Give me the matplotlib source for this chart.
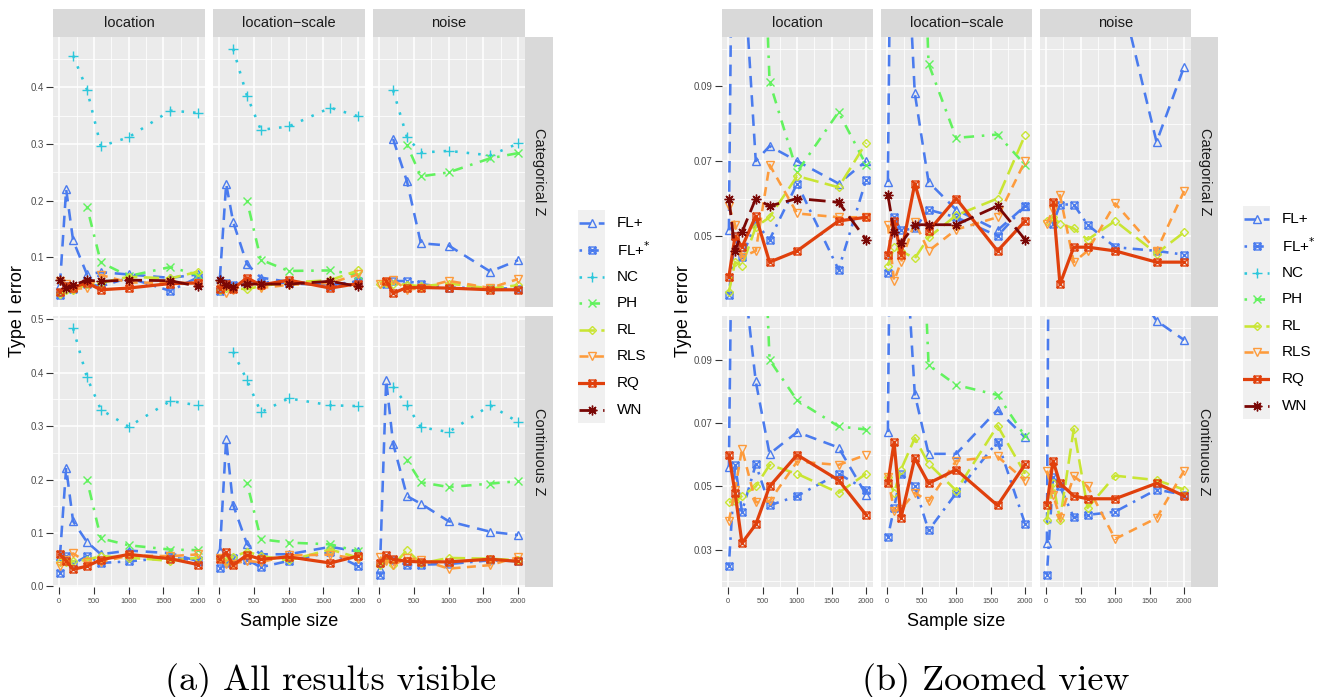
import numpy as np
import matplotlib.pyplot as plt
from matplotlib.path import Path
from matplotlib.ticker import FixedLocator, FormatStrFormatter

plt.rcParams['font.family'] = ['Liberation Sans', 'DejaVu Sans']

nan = np.nan

# x values shared by every facet
sample_size = [10, 100, 200, 400, 600, 1000, 1600, 2000]

methods = ['FL+', 'FL+*', 'NC', 'PH', 'RL', 'RLS', 'RQ', 'WN']
method_labels = ['FL+', 'FL+$^{*}$', 'NC', 'PH', 'RL', 'RLS', 'RQ', 'WN']
scenarios = ['location', 'location\u2212scale', 'noise']
covariates = ['Categorical Z', 'Continuous Z']

# type I error, one row per method (same order as `methods`)
cat_location = [
    [0.0515, 0.220, 0.130, 0.070, 0.074, 0.070, 0.064, 0.070],
    [0.0343, 0.050, 0.0444, 0.0535, 0.049, 0.064, 0.041, 0.065],
    [nan, nan, 0.456, 0.396, 0.296, 0.312, 0.359, 0.355],
    [nan, nan, nan, 0.189, 0.0912, 0.0671, 0.0831, 0.069],
    [0.035, 0.043, 0.042, 0.0524, 0.055, 0.066, 0.063, 0.0749],
    [0.058, 0.053, 0.0444, 0.046, 0.069, 0.056, 0.055, 0.055],
    [0.039, 0.050, 0.047, 0.0553, 0.043, 0.046, 0.054, 0.055],
    [0.060, 0.046, 0.051, 0.060, 0.058, 0.060, 0.059, 0.049],
]
cat_locscale = [
    [0.0644, 0.230, 0.163, 0.0882, 0.0644, 0.057, 0.0515, 0.058],
    [0.040, 0.055, 0.0515, 0.052, 0.057, 0.055, 0.050, 0.058],
    [nan, nan, 0.468, 0.385, 0.325, 0.331, 0.364, 0.349],
    [nan, nan, nan, 0.200, 0.096, 0.0762, 0.0771, 0.069],
    [0.042, 0.047, 0.046, 0.044, 0.0496, 0.0555, 0.060, 0.077],
    [0.053, 0.038, 0.043, 0.0537, 0.046, 0.0517, 0.055, 0.070],
    [0.045, 0.054, 0.045, 0.064, 0.0513, 0.060, 0.046, 0.054],
    [0.061, 0.051, 0.048, 0.053, 0.053, 0.053, 0.058, 0.049],
]
cat_noise = [
    [nan, nan, 0.309, 0.234, 0.125, 0.121, 0.0751, 0.0952],
    [nan, 0.0533, 0.0584, 0.0584, 0.053, 0.047, 0.046, 0.045],
    [nan, nan, 0.395, 0.312, 0.285, 0.288, 0.280, 0.301],
    [nan, nan, nan, 0.298, 0.243, 0.250, 0.275, 0.284],
    [0.054, 0.055, 0.0533, 0.052, 0.049, 0.054, 0.0453, 0.051],
    [0.0533, 0.057, 0.0609, 0.043, 0.046, 0.0587, 0.046, 0.062],
    [nan, 0.0591, 0.0371, 0.047, 0.047, 0.046, 0.043, 0.043],
    [nan, nan, nan, nan, nan, nan, nan, nan],
]
cont_location = [
    [0.0563, 0.222, 0.122, 0.0832, 0.0603, 0.0672, 0.0623, 0.0474],
    [0.025, 0.0568, 0.042, 0.057, 0.044, 0.047, 0.054, 0.049],
    [nan, nan, 0.483, 0.391, 0.331, 0.299, 0.347, 0.339],
    [nan, nan, nan, 0.199, 0.090, 0.0772, 0.069, 0.068],
    [0.045, 0.0453, 0.047, 0.050, 0.0568, 0.054, 0.048, 0.054],
    [0.039, 0.049, 0.0619, 0.045, 0.0453, 0.0579, 0.0568, 0.060],
    [0.060, 0.048, 0.0321, 0.038, 0.050, 0.060, 0.052, 0.041],
    [nan, nan, nan, nan, nan, nan, nan, nan],
]
cont_locscale = [
    [0.0672, 0.275, 0.153, 0.0792, 0.0603, 0.0603, 0.0742, 0.0655],
    [0.034, 0.0432, 0.054, 0.050, 0.0361, 0.0479, 0.0642, 0.0381],
    [nan, nan, 0.439, 0.386, 0.326, 0.352, 0.339, 0.3375],
    [nan, nan, nan, 0.194, 0.0884, 0.0821, 0.0789, 0.0658],
    [0.053, 0.048, 0.0553, 0.0653, 0.0572, 0.0487, 0.0692, 0.054],
    [0.053, 0.0423, 0.0428, 0.048, 0.0453, 0.0581, 0.0595, 0.0518],
    [0.051, 0.064, 0.040, 0.059, 0.051, 0.0553, 0.044, 0.057],
    [nan, nan, nan, nan, nan, nan, nan, nan],
]
cont_noise = [
    [0.0321, 0.386, 0.2675, 0.169, 0.155, 0.122, 0.1024, 0.0963],
    [0.0221, 0.053, 0.050, 0.0402, 0.041, 0.042, 0.049, 0.0474],
    [nan, nan, 0.374, 0.339, 0.298, 0.289, 0.339, 0.3075],
    [nan, nan, nan, 0.236, 0.195, 0.186, 0.1925, 0.197],
    [0.0393, 0.051, 0.0395, 0.0681, 0.0432, 0.0534, 0.052, 0.049],
    [0.055, 0.0474, 0.040, 0.0532, 0.050, 0.0334, 0.040, 0.055],
    [0.0442, 0.0581, 0.051, 0.047, 0.0461, 0.0461, 0.051, 0.047],
    [nan, nan, nan, nan, nan, nan, nan, nan],
]

facets = [[cat_location, cat_locscale, cat_noise],
          [cont_location, cont_locscale, cont_noise]]

# styling per method
colors = ['#4a7bee', '#4a7bee', '#2cc7db', '#62f25e', '#c9e533', '#fd9b3c', '#e0400c', '#7a0705']
styles = [(0, (4.5, 3)), (0, (1, 2.5, 4, 2.5)), (0, (1, 3.5)), (0, (1, 3, 4, 3)),
          (0, (6, 2.5)), (0, (3.5, 2.5)), '-', (0, (6, 2.5))]
widths = [1.85, 1.85, 1.85, 1.85, 1.85, 1.85, 2.3, 2.0]
sq_x = Path([(-1, -1), (1, -1), (1, 1), (-1, 1), (-1, -1), (-1, -1), (1, 1), (-1, 1), (1, -1)],
            [Path.MOVETO, Path.LINETO, Path.LINETO, Path.LINETO, Path.CLOSEPOLY,
             Path.MOVETO, Path.LINETO, Path.MOVETO, Path.LINETO])
markers = ['^', sq_x, '+', 'x', 'D', 'v', sq_x, (8, 2, 0)]
msizes = [5.5, 5, 7, 5.5, 4.5, 5.5, 5, 7]

W, H = 1321, 697
fig = plt.figure(figsize=(W / 100, H / 100), dpi=100)


def add_px(x0, y0, x1, y1):
    return fig.add_axes([x0 / W, 1 - y1 / H, (x1 - x0) / W, (y1 - y0) / H])


def expand(lo, hi):
    r = hi - lo
    return lo - 0.05 * r, hi + 0.05 * r


rows = [(36.5, 307), (316, 587)]
strip_top = 9
blocks = [
    dict(cols=[(53, 205), (213, 365), (373, 525)], strip=(525, 553), zoom=False,
         ylab_x=18, leg=(578, 210, 605, 423), leg_tx=617,
         caption='(a) All results visible', cap_x=331),
    dict(cols=[(722, 873), (881, 1032), (1040, 1191)], strip=(1191, 1218), zoom=True,
         ylab_x=683, leg=(1243, 206, 1270, 419), leg_tx=1282,
         caption='(b) Zoomed view', cap_x=996),
]

xlim = expand(min(sample_size), max(sample_size))

for blk in blocks:
    for r in range(2):
        y0, y1 = rows[r]
        vals = np.array(facets[r], dtype=float)
        lo, hi = np.nanmin(vals), np.nanmax(vals)
        if blk['zoom']:
            ylim = expand(lo, 0.1)
            major = [0.03, 0.05, 0.07, 0.09]
            minor = [0.02, 0.04, 0.06, 0.08, 0.10]
            fmt = '%.2f'
        else:
            ylim = expand(lo, hi)
            major = [0.0, 0.1, 0.2, 0.3, 0.4, 0.5]
            minor = [0.05, 0.15, 0.25, 0.35, 0.45]
            fmt = '%.1f'
        for c in range(3):
            x0, x1 = blk['cols'][c]
            ax = add_px(x0, y0, x1, y1)
            ax.set_facecolor('#ebebeb')
            data = np.array(facets[r][c], dtype=float)
            for i in range(len(methods)):
                ax.plot(sample_size, data[i], color=colors[i], linestyle=styles[i],
                        linewidth=widths[i], marker=markers[i], markersize=msizes[i],
                        markerfacecolor='none', markeredgecolor=colors[i],
                        markeredgewidth=1.0)
            ax.set_xlim(xlim)
            ax.set_ylim(ylim)
            ax.xaxis.set_major_locator(FixedLocator([0, 500, 1000, 1500, 2000]))
            ax.xaxis.set_minor_locator(FixedLocator([250, 750, 1250, 1750]))
            ax.yaxis.set_major_locator(FixedLocator(major))
            ax.yaxis.set_minor_locator(FixedLocator(minor))
            ax.yaxis.set_major_formatter(FormatStrFormatter(fmt))
            ax.grid(which='major', color='white', linewidth=1.1)
            ax.grid(which='minor', color='white', linewidth=0.55)
            ax.set_axisbelow(True)
            for s in ax.spines.values():
                s.set_visible(False)
            ax.tick_params(which='minor', length=0)
            ax.tick_params(axis='y', which='major', length=5, width=0.8, color='#333333',
                           labelsize=7, labelcolor='#4d4d4d', pad=1.7,
                           left=(c == 0), labelleft=(c == 0))
            ax.tick_params(axis='x', which='major', length=5, width=0.8, color='#333333',
                           labelsize=5.3, labelcolor='#4d4d4d', pad=3,
                           bottom=(r == 1), labelbottom=(r == 1))

            # facet strips on top
            if r == 0:
                st = add_px(x0, strip_top, x1, y0)
                st.set_facecolor('#d9d9d9')
                st.set_xticks([])
                st.set_yticks([])
                for s in st.spines.values():
                    s.set_visible(False)
                st.text(0.5, 0.5, scenarios[c], ha='center', va='center',
                        fontsize=10.5, color='#1a1a1a', transform=st.transAxes)

        # facet strip on the right
        sx0, sx1 = blk['strip']
        sr = add_px(sx0, y0, sx1, y1)
        sr.set_facecolor('#d9d9d9')
        sr.set_xticks([])
        sr.set_yticks([])
        for s in sr.spines.values():
            s.set_visible(False)
        sr.text(0.5, 0.5, covariates[r], ha='center', va='center', rotation=270,
                fontsize=10.5, color='#1a1a1a', transform=sr.transAxes)

    # axis titles
    xc = (blk['cols'][0][0] + blk['cols'][2][1]) / 2
    fig.text(xc / W, 1 - 626 / H, 'Sample size', ha='center', va='baseline', fontsize=13)
    fig.text(blk['ylab_x'] / W, 1 - 311 / H, 'Type I error', ha='center', va='center',
             rotation=90, fontsize=13)

    # legend
    lx0, ly0, lx1, ly1 = blk['leg']
    lg = add_px(lx0, ly0, lx1, ly1)
    lg.set_facecolor('#f0f0f0')
    lg.set_xlim(0, 1)
    lg.set_ylim(len(methods), 0)
    lg.set_xticks([])
    lg.set_yticks([])
    for s in lg.spines.values():
        s.set_visible(False)
    step = (ly1 - ly0) / len(methods)
    for i in range(len(methods)):
        lg.plot([0.05, 0.95], [i + 0.5, i + 0.5], color=colors[i], linestyle=styles[i],
                linewidth=widths[i])
        lg.plot([0.5], [i + 0.5], color=colors[i], marker=markers[i], markersize=msizes[i],
                markerfacecolor='none', markeredgecolor=colors[i], markeredgewidth=1.0)
        fig.text(blk['leg_tx'] / W, 1 - (ly0 + step * (i + 0.5)) / H, method_labels[i],
                 ha='left', va='center', fontsize=11)

    # sub-figure caption
    fig.text(blk['cap_x'] / W, 1 - 690 / H, blk['caption'], ha='center', va='baseline',
             fontsize=26, family='cmr10')

fig.savefig('out.png', dpi=100)
